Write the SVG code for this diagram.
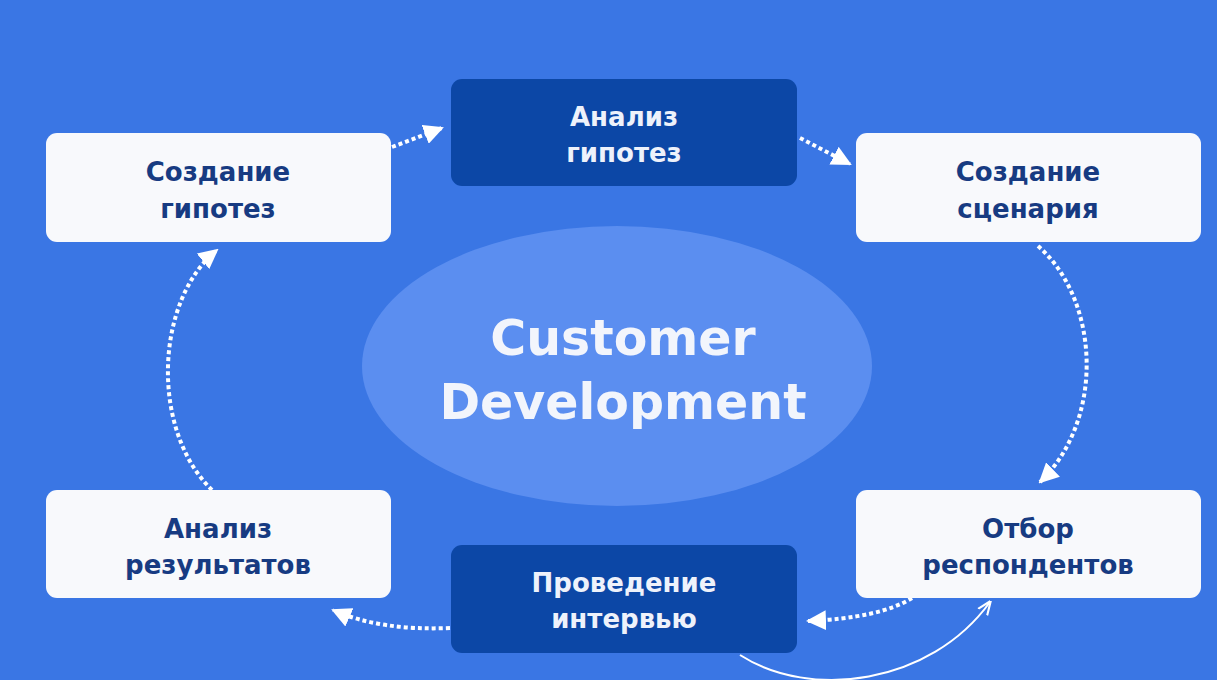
<svg xmlns="http://www.w3.org/2000/svg" width="1217" height="680" viewBox="0 0 1217 680">
<defs>
<marker id="ah" viewBox="0 0 10 10" refX="9" refY="5" markerWidth="20" markerHeight="20" markerUnits="userSpaceOnUse" orient="auto">
<path d="M0,0 L10,5 L0,10 z" fill="#ffffff"/>
</marker>
<marker id="ahs" viewBox="0 0 10 10" refX="9" refY="5" markerWidth="14" markerHeight="14" markerUnits="userSpaceOnUse" orient="auto">
<path d="M0,1 L10,5 L0,9" fill="none" stroke="#ffffff" stroke-width="1.5"/>
</marker>
<style>
.lt{fill:#f8f9fc}
.dk{fill:#0c47a6}
.tl{font-family:"DejaVu Sans","Noto Sans",sans-serif;font-weight:700;font-size:26px;fill:#173b82;text-anchor:middle}
.td{font-family:"DejaVu Sans","Noto Sans",sans-serif;font-weight:700;font-size:26px;fill:#eef2fb;text-anchor:middle}
.ct{font-family:"DejaVu Sans","Noto Sans",sans-serif;font-weight:700;font-size:49px;fill:#f2f5fc;text-anchor:middle}
.dash{fill:none;stroke:#ffffff;stroke-width:4;stroke-dasharray:4 3;marker-end:url(#ah)}
.solid{fill:none;stroke:#ffffff;stroke-width:2;marker-end:url(#ahs)}
</style>
</defs>
<rect width="1217" height="680" fill="#3a76e4"/>
<g id="center">
<ellipse cx="617" cy="366" rx="255" ry="140" fill="#5b8ef0"/>
<text class="ct" x="623" y="355">Customer</text>
<text class="ct" x="623" y="419">Development</text>
</g>
<g id="connectors">
<path class="dash" d="M392,147 L442,128"/>
<path class="dash" d="M800,138 L850,164"/>
<path class="dash" d="M1038,246 C1100,300 1105,420 1040,482"/>
<path class="dash" d="M912,598 Q880,618 808,621"/>
<path class="dash" d="M450,628 Q380,631 333,610"/>
<path class="dash" d="M212,490 C150,430 155,300 217,250"/>
<path class="solid" d="M740,655 C810,700 930,685 990,602"/>
</g>
<g id="n1">
<rect class="lt" x="46" y="133" width="345" height="109" rx="11"/>
<text class="tl" x="218" y="181">Создание</text>
<text class="tl" x="218" y="218">гипотез</text>
</g>
<g id="n2">
<rect class="dk" x="451" y="79" width="346" height="107" rx="11"/>
<text class="td" x="624" y="126">Анализ</text>
<text class="td" x="624" y="162">гипотез</text>
</g>
<g id="n3">
<rect class="lt" x="856" y="133" width="345" height="109" rx="11"/>
<text class="tl" x="1028" y="181">Создание</text>
<text class="tl" x="1028" y="218">сценария</text>
</g>
<g id="n4">
<rect class="lt" x="856" y="490" width="345" height="108" rx="11"/>
<text class="tl" x="1028" y="538">Отбор</text>
<text class="tl" x="1028" y="574">респондентов</text>
</g>
<g id="n5">
<rect class="dk" x="451" y="545" width="346" height="108" rx="11"/>
<text class="td" x="624" y="592">Проведение</text>
<text class="td" x="624" y="628">интервью</text>
</g>
<g id="n6">
<rect class="lt" x="46" y="490" width="345" height="108" rx="11"/>
<text class="tl" x="218" y="538">Анализ</text>
<text class="tl" x="218" y="574">результатов</text>
</g>
</svg>
